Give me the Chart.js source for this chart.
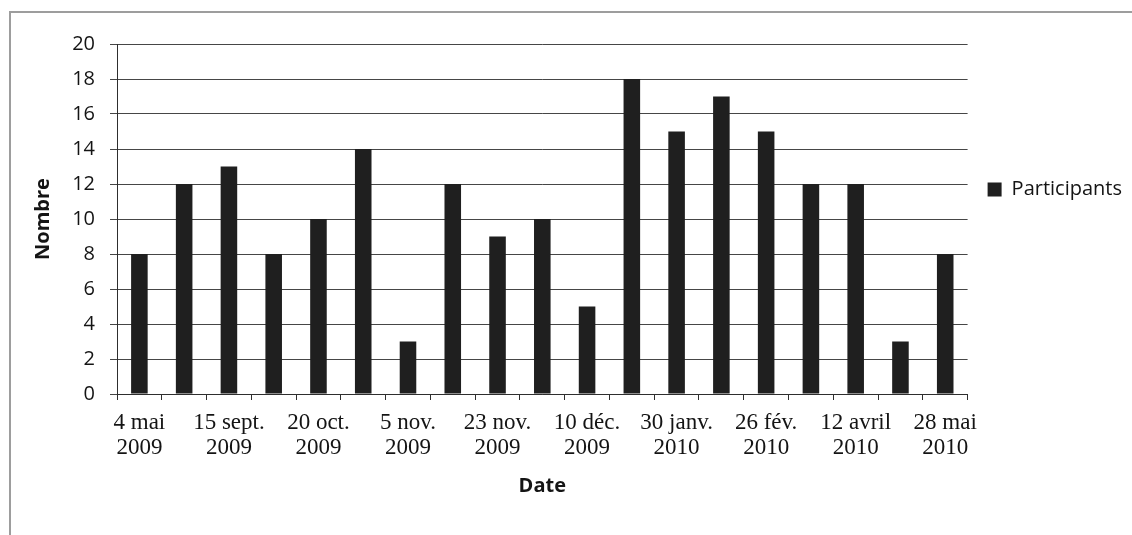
<!DOCTYPE html>
<html lang="fr">
<head>
<meta charset="utf-8">
<title>Participants par date</title>
<script src="https://cdn.jsdelivr.net/npm/chart.js@4/dist/chart.umd.min.js"></script>
<style>
  html, body { margin: 0; padding: 0; background: #ffffff; }
  #wrap { position: relative; width: 1132px; height: 535px; overflow: hidden; }
  #frame {
    position: absolute; left: 9px; top: 11px; width: 1200px; height: 600px;
    border-left: 2px solid #9d9d9d; border-top: 2px solid #9d9d9d;
  }
  #chart { position: absolute; left: 0; top: 0; }
</style>
</head>
<body>
<div id="wrap">
  <div id="frame"></div>
  <canvas id="chart" width="1132" height="535"></canvas>
</div>
<script>
// Session dates shown under the axis (one label every second session)
const shownDates = [
  ['4 mai', '2009'], ['15 sept.', '2009'], ['20 oct.', '2009'], ['5 nov.', '2009'],
  ['23 nov.', '2009'], ['10 déc.', '2009'], ['30 janv.', '2010'], ['26 fév.', '2010'],
  ['12 avril', '2010'], ['28 mai', '2010']
];
// Number of participants at each session
const participants = [8, 12, 13, 8, 10, 14, 3, 12, 9, 10, 5, 18, 15, 17, 15, 12, 12, 3, 8];
const yTicks = [0, 2, 4, 6, 8, 10, 12, 14, 16, 18, 20];

const categories = participants.map((_, i) => (i % 2 === 0 ? shownDates[i / 2] : ''));

const sans = "'Open Sans', 'Liberation Sans', sans-serif";
const serif = "'Liberation Serif', 'DejaVu Serif', serif";
const ink = '#141414';

new Chart(document.getElementById('chart'), {
  type: 'bar',
  data: {
    labels: categories,
    datasets: [{
      label: 'Participants',
      data: participants,
      backgroundColor: '#1f1f1f',
      borderWidth: 0,
      categoryPercentage: 1.0,
      barPercentage: 0.37
    }]
  },
  options: {
    responsive: false,
    animation: false,
    events: [],
    layout: { padding: { top: 44, left: 20, right: 0, bottom: 37 } },
    scales: {
      x: {
        type: 'category',
        offset: true,
        afterFit: (scale) => { scale.height = 104; },
        grid: {
          offset: true,
          drawOnChartArea: false,
          drawTicks: true,
          tickLength: 6,
          color: '#2e2e2e',
          lineWidth: 1
        },
        border: { display: true, color: '#2e2e2e', width: 1 },
        ticks: {
          autoSkip: false,
          maxRotation: 0,
          minRotation: 0,
          padding: 10,
          color: ink,
          font: { family: serif, size: 23, lineHeight: 1.1 }
        },
        title: {
          display: true,
          text: 'Date',
          color: ink,
          padding: { top: 0, bottom: 0 },
          font: { family: sans, size: 20, weight: 'bold', lineHeight: 1.2 }
        }
      },
      y: {
        min: 0,
        max: 20,
        afterFit: (scale) => { scale.width = 97; },
        afterBuildTicks: (scale) => { scale.ticks = yTicks.map(v => ({ value: v })); },
        grid: {
          color: '#464646',
          lineWidth: 1,
          drawTicks: true,
          tickLength: 7
        },
        border: { display: true, color: '#2e2e2e', width: 1 },
        ticks: {
          padding: 15,
          color: ink,
          font: { family: sans, size: 20 }
        },
        title: {
          display: true,
          text: 'Nombre',
          color: ink,
          padding: { top: 11, bottom: 0 },
          font: { family: sans, size: 20, weight: 'bold', lineHeight: 1.2 }
        }
      }
    },
    plugins: {
      tooltip: { enabled: false },
      legend: {
        display: true,
        position: 'right',
        align: 'start',
        title: {
          display: true,
          text: '',
          padding: { top: 101, bottom: 0 },
          font: { size: 12 }
        },
        labels: {
          boxWidth: 14,
          boxHeight: 14,
          padding: 20,
          color: ink,
          font: { family: sans, size: 20 }
        }
      }
    }
  }
});
</script>
</body>
</html>
